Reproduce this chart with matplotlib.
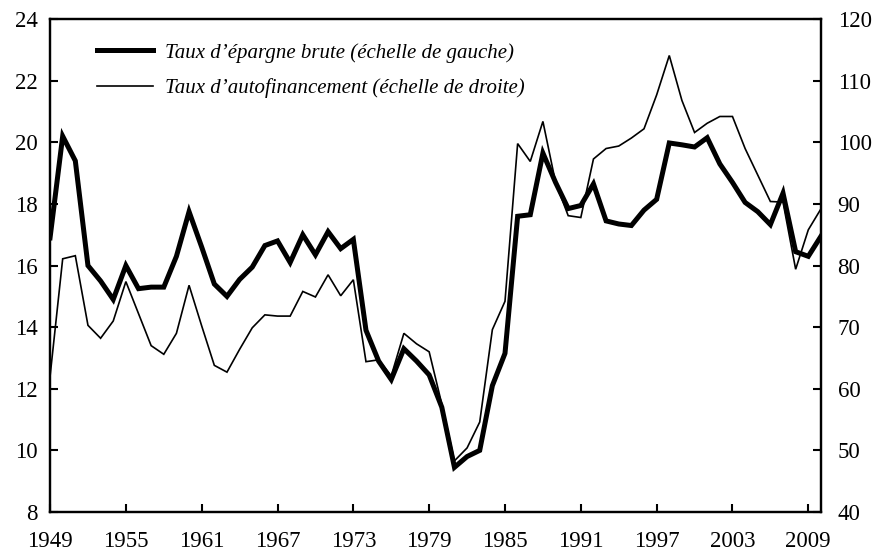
import matplotlib.pyplot as plt
from matplotlib.lines import Line2D

plt.rcParams["font.family"] = ["Liberation Serif", "DejaVu Serif"]

years = list(range(1949, 2011))

# Taux d'épargne brute (échelle de gauche)
epargne = [16.9, 20.2, 19.4, 16.0, 15.5, 14.9, 16.0, 15.25, 15.3, 15.3,
           16.3, 17.75, 16.6, 15.4, 15.0, 15.55, 15.95, 16.65, 16.8, 16.1,
           17.0, 16.35, 17.1, 16.55, 16.85, 13.9, 12.9, 12.3, 13.3, 12.9,
           12.45, 11.4, 9.45, 9.8, 10.0, 12.1, 13.15, 17.6, 17.65, 19.65,
           18.7, 17.85, 17.95, 18.65, 17.45, 17.35, 17.3, 17.8, 18.15, 19.98,
           19.92, 19.85, 20.15, 19.3, 18.7, 18.05, 17.75, 17.33, 18.35, 16.45,
           16.3, 16.95]

# Taux d'autofinancement (échelle de droite)
autofin = [62.0, 81.1, 81.6, 70.3, 68.2, 71.0, 77.4, 72.2, 67.0, 65.6,
           69.0, 76.8, 70.2, 63.8, 62.7, 66.4, 69.9, 72.0, 71.8, 71.8,
           75.8, 74.9, 78.5, 75.1, 77.7, 64.4, 64.7, 62.1, 69.0, 67.3,
           66.0, 57.5, 48.3, 50.4, 54.6, 69.6, 74.2, 99.8, 96.9, 103.4,
           93.5, 88.1, 87.8, 97.3, 99.0, 99.4, 100.7, 102.2, 107.7, 114.1,
           106.8, 101.6, 103.1, 104.2, 104.2, 99.0, 94.7, 90.4, 90.3, 79.4,
           85.8, 89.2]

xticks = list(range(1949, 2010, 6))
left_ticks = list(range(8, 25, 2))
right_ticks = list(range(40, 121, 10))

fig = plt.figure(figsize=(8.78, 5.55), dpi=100)
ax1 = fig.add_axes([0.057, 0.0775, 0.878, 0.888])
ax2 = ax1.twinx()
ax1.set_zorder(ax2.get_zorder() + 1)
ax1.patch.set_visible(False)

ax1.plot(years, epargne, color="black", lw=3.6, solid_joinstyle="miter")
ax2.plot(years, autofin, color="black", lw=1.2, solid_joinstyle="miter")

ax1.set_xlim(1949, 2010)
ax1.set_ylim(8, 24)
ax2.set_ylim(40, 120)
ax1.set_xticks(xticks)
ax1.set_yticks(left_ticks)
ax2.set_yticks(right_ticks)

for ax in (ax1, ax2):
    for s in ax.spines.values():
        s.set_linewidth(1.6)
ax1.tick_params(axis="x", direction="in", length=6, width=1.5, pad=14, labelsize=16.5)
ax1.tick_params(axis="y", direction="in", length=6, width=1.5, pad=9, labelsize=16.5)
ax2.tick_params(axis="y", direction="in", length=6, width=1.5, pad=12, labelsize=16.5)

handles = [Line2D([], [], color="black", lw=3.6),
           Line2D([], [], color="black", lw=1.2)]
labels = ["Taux d\u2019\u00e9pargne brute (\u00e9chelle de gauche)",
          "Taux d\u2019autofinancement (\u00e9chelle de droite)"]
ax1.legend(handles, labels, loc="upper left", bbox_to_anchor=(0.036, 0.99),
           frameon=False, prop={"style": "italic", "size": 15},
           handlelength=2.7, handletextpad=0.6, labelspacing=0.75)

fig.savefig("out.png", dpi=100)
